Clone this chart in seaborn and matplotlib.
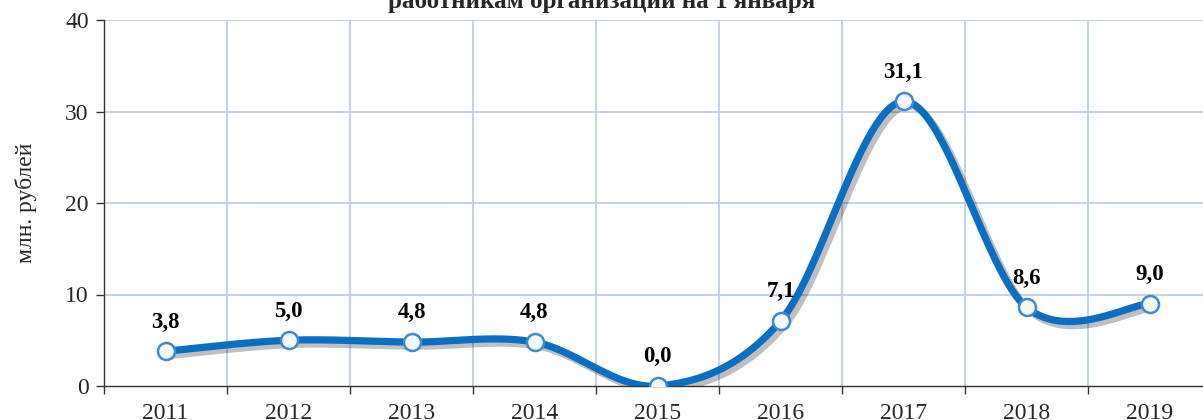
import numpy as np
import pandas as pd
import matplotlib
matplotlib.use('Agg')
import matplotlib.pyplot as plt
import matplotlib.patheffects as pe
import seaborn as sns

# ─── Data ─────────────────────────────────────────────────────────────────────
years  = ['2011', '2012', '2013', '2014', '2015', '2016', '2017', '2018', '2019']
values = [3.8, 5.0, 4.8, 4.8, 0.0, 7.1, 31.1, 8.6, 9.0]
y_ticks = [0, 10, 20, 30, 40]
title  = 'работникам организаций на 1 января'
ylabel = 'млн. рублей'

df = pd.DataFrame({'year': years, 'value': values})
df['x'] = np.arange(len(df))

# ─── Style ────────────────────────────────────────────────────────────────────
sns.set_style('white')
plt.rcParams['font.family'] = ['Liberation Serif', 'DejaVu Serif']

LINE_BLUE = '#0A6FC2'
GRID_BLUE = '#BDD0E8'


def smooth_curve(xs, ys, n=60):
    # Excel-like smoothed line (Catmull-Rom as cubic Bezier)
    px = np.concatenate([[xs[0]], xs, [xs[-1]]])
    py = np.concatenate([[ys[0]], ys, [ys[-1]]])
    t = np.linspace(0, 1, n)[:, None]
    out_x, out_y = [], []
    for i in range(1, len(px) - 2):
        p0 = np.array([px[i], py[i]])
        p3 = np.array([px[i + 1], py[i + 1]])
        c1 = p0 + (np.array([px[i + 1], py[i + 1]]) - np.array([px[i - 1], py[i - 1]])) / 6
        c2 = p3 - (np.array([px[i + 2], py[i + 2]]) - np.array([px[i], py[i]])) / 6
        pts = ((1 - t) ** 3) * p0 + 3 * ((1 - t) ** 2) * t * c1 + 3 * (1 - t) * t ** 2 * c2 + t ** 3 * p3
        out_x.extend(pts[:, 0])
        out_y.extend(pts[:, 1])
    return np.array(out_x), np.array(out_y)


# ─── Figure ───────────────────────────────────────────────────────────────────
fig = plt.figure(figsize=(12.03, 4.20), dpi=100)
ax = fig.add_axes([104 / 1203, 34 / 420, 1107 / 1203, 366 / 420])

sx, sy = smooth_curve(df['x'].values.astype(float), df['value'].values)
ax.plot(sx, sy, color=LINE_BLUE, lw=5.2, solid_capstyle='round', zorder=3,
        path_effects=[pe.SimpleLineShadow(offset=(3, -3), shadow_color='black', alpha=0.25),
                      pe.Normal()])

sns.scatterplot(data=df, x='x', y='value', ax=ax, s=150, color='#F4F8FD',
                edgecolor='#3C8AD0', linewidth=1.8, zorder=4, legend=False)

for xi, v in zip(df['x'], df['value']):
    ax.annotate(f'{v:.1f}'.replace('.', ','), (xi, v), xytext=(0, 21),
                textcoords='offset points', ha='center', va='center',
                fontsize=16.5, fontweight='bold', color='black')

# axes
ax.set_xlim(-0.5, len(years) - 0.5)
ax.set_ylim(0, 40)
ax.set_yticks(y_ticks)
ax.set_yticklabels([str(t) for t in y_ticks], fontsize=17)
ax.set_xticks(df['x'])
ax.set_xticklabels(years, fontsize=17)
ax.tick_params(axis='x', length=0, pad=12)
ax.tick_params(axis='y', length=6, width=1, color='#333333', pad=5, direction='out', left=True)
ax.set_xticks(np.arange(-0.5, len(years), 1), minor=True)
ax.tick_params(axis='x', which='minor', length=6, width=1, color='#333333', direction='out', bottom=True)
ax.set_xlabel('')
ax.set_ylabel(ylabel, fontsize=17, labelpad=20)

ax.grid(False)
for yv in y_ticks[1:]:
    ax.axhline(yv, color=GRID_BLUE, lw=1.3, zorder=0)
for xb in np.arange(0.5, len(years), 1):
    ax.axvline(xb, color=GRID_BLUE, lw=1.3, zorder=0)

for side in ['top', 'right']:
    ax.spines[side].set_visible(False)
ax.spines['left'].set_color('#333333')
ax.spines['bottom'].set_color('#333333')
ax.spines['left'].set_linewidth(1)
ax.spines['bottom'].set_linewidth(1)

fig.text(0.5, 1.0 - 8 / 420, title, ha='center', va='baseline',
         fontsize=18, fontweight='bold')

fig.savefig('out.png', dpi=100)
plt.close(fig)
